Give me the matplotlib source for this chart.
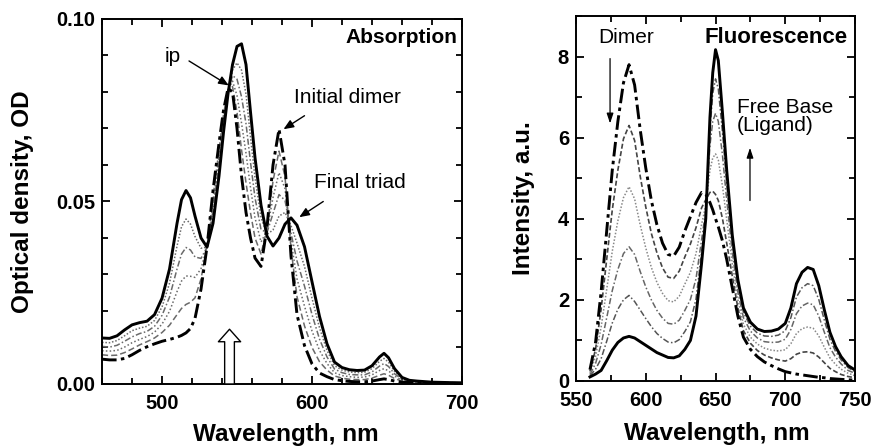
import matplotlib
matplotlib.use("Agg")
import matplotlib.pyplot as plt
from matplotlib.ticker import MultipleLocator

plt.rcParams['font.family'] = ['Liberation Sans', 'DejaVu Sans']

# ---------------- Absorption data ----------------
wl_abs = [460, 465, 470, 475, 480, 485, 490, 495, 500, 505, 510, 513, 516, 519, 522,
          526, 530, 534, 538, 541, 544, 547, 550, 553, 556, 559, 562, 566, 570, 574,
          578, 582, 586, 590, 595, 600, 605, 610, 615, 620, 625, 630, 635, 640, 645,
          648, 651, 655, 660, 665, 670, 680, 690, 700]

abs_triad = [.0126, .0125, .0132, .0148, .0162, .0168, .0172, .0190, .0235, .0315, .0440, .0505, .0530, .0510, .0460,
             .0400, .0375, .0440, .0570, .0690, .0795, .0875, .0925, .0932, .0875, .0745, .0620, .0490, .0405, .0378,
             .0400, .0438, .0455, .0435, .0376, .0280, .0185, .0110, .0060, .0045, .0039, .0037, .0038, .0050, .0074,
             .0084, .0072, .0042, .0018, .0010, .0008, .0005, .0004, .0003]

abs_i1 = [.0114, .0113, .0119, .0132, .0146, .0153, .0158, .0174, .0211, .0276, .0378, .0431, .0452, .0438, .0404,
          .0372, .0375, .0458, .0588, .0702, .0798, .0860, .0880, .0860, .0794, .0676, .0565, .0456, .0410, .0422,
          .0460, .0470, .0434, .0386, .0322, .0235, .0154, .0092, .0050, .0038, .0033, .0031, .0032, .0042, .0062,
          .0070, .0060, .0035, .0015, .0009, .0007, .0005, .0004, .0003]

abs_i2 = [.0103, .0101, .0106, .0117, .0129, .0138, .0144, .0158, .0188, .0238, .0315, .0356, .0374, .0367, .0348,
          .0344, .0375, .0476, .0606, .0714, .0801, .0845, .0835, .0787, .0713, .0607, .0510, .0423, .0415, .0467,
          .0519, .0503, .0413, .0337, .0268, .0190, .0123, .0074, .0041, .0031, .0026, .0025, .0025, .0033, .0049,
          .0056, .0048, .0028, .0013, .0008, .0006, .0004, .0003, .0003]

abs_i3 = [.0091, .0090, .0092, .0101, .0113, .0122, .0130, .0142, .0164, .0199, .0253, .0282, .0296, .0295, .0292,
          .0316, .0375, .0494, .0624, .0726, .0804, .0830, .0790, .0715, .0632, .0538, .0455, .0389, .0420, .0511,
          .0579, .0535, .0392, .0288, .0213, .0145, .0092, .0056, .0031, .0023, .0020, .0018, .0019, .0025, .0037,
          .0042, .0036, .0022, .0010, .0006, .0005, .0004, .0003, .0002]

abs_i4 = [.0080, .0078, .0079, .0086, .0096, .0107, .0116, .0126, .0141, .0161, .0190, .0207, .0218, .0224, .0236,
          .0288, .0375, .0512, .0642, .0738, .0807, .0815, .0745, .0642, .0551, .0469, .0400, .0356, .0425, .0556,
          .0638, .0568, .0371, .0239, .0159, .0100, .0061, .0038, .0022, .0016, .0013, .0012, .0012, .0016, .0024,
          .0028, .0024, .0015, .0008, .0005, .0004, .0003, .0002, .0002]

abs_dimer = [.0068, .0066, .0066, .0070, .0080, .0092, .0102, .0110, .0117, .0122, .0128, .0133, .0140, .0152, .0180,
             .0260, .0376, .0530, .0660, .0750, .0810, .0800, .0700, .0570, .0470, .0400, .0345, .0322, .0430, .0600,
             .0698, .0600, .0350, .0190, .0105, .0055, .0030, .0020, .0012, .0009, .0007, .0006, .0006, .0008, .0012,
             .0014, .0012, .0008, .0005, .0004, .0003, .0003, .0002, .0002]

# ---------------- Fluorescence data ----------------
wl_fl = [560, 564, 568, 572, 576, 580, 584, 588, 592, 596, 600, 604, 608, 612, 616, 620, 624, 628,
         632, 636, 640, 643, 646, 648, 650, 652, 655, 658, 662, 666, 670, 675, 680, 685, 690, 695,
         700, 704, 708, 712, 716, 720, 724, 728, 732, 736, 740, 745, 750]

fl_triad = [.10, .17, .26, .50, .76, .95, 1.06, 1.10, 1.06, .97, .88, .79, .70, .64, .58, .57, .62, .78,
            1.00, 1.60, 2.90, 4.00, 6.50, 7.60, 8.17, 7.90, 6.60, 5.20, 3.60, 2.50, 1.80, 1.45, 1.28, 1.22, 1.23, 1.28,
            1.42, 1.80, 2.40, 2.68, 2.80, 2.75, 2.35, 1.75, 1.20, .85, .60, .38, .27]

fl_f4 = [.13, .29, .55, .98, 1.43, 1.77, 2.00, 2.11, 1.96, 1.75, 1.54, 1.34, 1.17, 1.05, .96, .94, 1.02, 1.22,
         1.46, 2.02, 3.16, 4.09, 6.19, 7.09, 7.45, 7.20, 6.13, 4.87, 3.41, 2.37, 1.69, 1.35, 1.18, 1.11, 1.10, 1.13,
         1.24, 1.56, 2.07, 2.30, 2.40, 2.35, 2.01, 1.50, 1.03, .73, .52, .33, .23]

fl_f3 = [.16, .43, .90, 1.56, 2.23, 2.75, 3.14, 3.31, 3.12, 2.70, 2.32, 2.00, 1.74, 1.55, 1.42, 1.40, 1.50, 1.74,
         2.01, 2.52, 3.48, 4.20, 5.81, 6.40, 6.60, 6.40, 5.56, 4.47, 3.17, 2.20, 1.56, 1.23, 1.06, .97, .95, .96,
         1.03, 1.27, 1.66, 1.85, 1.92, 1.88, 1.60, 1.20, .82, .59, .42, .26, .19]

fl_f2 = [.20, .60, 1.33, 2.26, 3.20, 3.95, 4.52, 4.79, 4.49, 3.85, 3.28, 2.80, 2.43, 2.16, 1.98, 1.95, 2.09, 2.39,
         2.68, 3.14, 3.86, 4.33, 5.20, 5.50, 5.60, 5.45, 4.80, 3.99, 2.89, 2.01, 1.40, 1.08, .91, .81, .76, .74,
         .77, .92, 1.17, 1.29, 1.33, 1.30, 1.11, .83, .57, .41, .29, .19, .13]

fl_f1 = [.24, .78, 1.77, 3.00, 4.22, 5.20, 5.97, 6.30, 5.93, 5.05, 4.29, 3.64, 3.16, 2.79, 2.56, 2.53, 2.71, 3.06,
         3.38, 3.78, 4.27, 4.47, 4.65, 4.68, 4.60, 4.45, 4.00, 3.40, 2.59, 1.80, 1.24, .93, .75, .64, .57, .52,
         .49, .55, .66, .71, .72, .69, .59, .45, .31, .23, .16, .11, .08]

fl_dimer = [.28, .95, 2.20, 3.70, 5.20, 6.40, 7.35, 7.80, 7.30, 6.20, 5.25, 4.45, 3.85, 3.40, 3.12, 3.08, 3.30, 3.70,
            4.05, 4.40, 4.65, 4.60, 4.40, 4.22, 4.00, 3.80, 3.45, 3.00, 2.30, 1.60, 1.08, .78, .60, .47, .38, .30,
            .23, .20, .17, .15, .13, .11, .09, .08, .06, .05, .04, .03, .02]

abs_xticks = [500, 600, 700]
abs_yticks = [0.00, 0.05, 0.10]
abs_yticklabels = ['0.00', '0.05', '0.10']
fl_xticks = [550, 600, 650, 700, 750]
fl_yticks = [0, 2, 4, 6, 8]

# ---------------- Figure ----------------
fig = plt.figure(figsize=(8.75, 4.48), dpi=100)
ax1 = fig.add_axes([0.1166, 0.1429, 0.4114, 0.8147])
ax2 = fig.add_axes([0.6583, 0.1496, 0.3189, 0.8147])

TICKFS = 14.5
LABFS = 17.5
ANNFS = 15

def style_axis(ax):
    for s in ax.spines.values():
        s.set_linewidth(1.4)
    ax.tick_params(which='both', direction='in', top=True, right=True, width=1.3)
    ax.tick_params(which='major', length=6, labelsize=TICKFS)
    ax.tick_params(axis='x', which='major', pad=7)
    ax.tick_params(axis='y', which='major', pad=5)
    ax.tick_params(which='minor', length=4)
    for lab in ax.get_xticklabels() + ax.get_yticklabels():
        lab.set_fontweight('bold')

# Absorption panel
grey = '#6a6a6a'
ax1.plot(wl_abs, abs_i4, color=grey, lw=1.1, ls=(0, (4, 2)))
ax1.plot(wl_abs, abs_i3, color=grey, lw=1.1, ls=(0, (1, 1.5)))
ax1.plot(wl_abs, abs_i2, color=grey, lw=1.1, ls=(0, (4, 1.5, 1, 1.5)))
ax1.plot(wl_abs, abs_i1, color=grey, lw=1.1, ls=(0, (1, 1.2)))
ax1.plot(wl_abs, abs_dimer, color='black', lw=2.1, ls=(0, (5, 1.5, 1.2, 1.5)))
ax1.plot(wl_abs, abs_triad, color='black', lw=2.1, ls='-')

ax1.set_xlim(460, 700)
ax1.set_ylim(0, 0.10)
ax1.set_xticks(abs_xticks)
ax1.set_yticks(abs_yticks)
ax1.set_yticklabels(abs_yticklabels)
ax1.xaxis.set_minor_locator(MultipleLocator(20))
ax1.yaxis.set_minor_locator(MultipleLocator(0.01))
style_axis(ax1)
ax1.set_xlabel('Wavelength, nm', fontsize=LABFS, fontweight='bold')
ax1.set_ylabel('Optical density, OD', fontsize=LABFS, fontweight='bold')
ax1.xaxis.set_label_coords(0.51, -0.108)
ax1.yaxis.set_label_coords(-0.19, 0.5)

ax1.text(697, 0.0948, 'Absorption', fontsize=15, fontweight='bold', ha='right', va='center')
ap = dict(arrowstyle='-|>,head_length=0.6,head_width=0.25', color='black', lw=1.0,
          shrinkA=0, shrinkB=0)
ax1.text(507, 0.0896, 'ip', fontsize=ANNFS, ha='center', va='center')
ax1.annotate('', xy=(544.5, 0.0818), xytext=(518, 0.0885), arrowprops=ap)
ax1.text(588, 0.0785, 'Initial dimer', fontsize=ANNFS, ha='left', va='center')
ax1.annotate('', xy=(581, 0.0698), xytext=(595, 0.0735), arrowprops=ap)
ax1.text(601.5, 0.0552, 'Final triad', fontsize=ANNFS, ha='left', va='center')
ax1.annotate('', xy=(591.5, 0.0457), xytext=(607.5, 0.0500), arrowprops=ap)
ax1.annotate('', xy=(545, 0.0150), xytext=(545, 0.0),
             arrowprops=dict(arrowstyle='simple,head_length=9,head_width=16,tail_width=7',
                             mutation_scale=1, fc='white', ec='black', lw=1.0,
                             shrinkA=0, shrinkB=0))

# Fluorescence panel
ax2.plot(wl_fl, fl_f4, color='#555555', lw=1.1, ls=(0, (4, 1.5, 1, 1.5)))
ax2.plot(wl_fl, fl_f3, color='#666666', lw=1.1, ls=(0, (4, 1.5, 1, 1.5)))
ax2.plot(wl_fl, fl_f2, color='#888888', lw=1.1, ls=(0, (1, 1.2)))
ax2.plot(wl_fl, fl_f1, color='#444444', lw=1.2, ls=(0, (3, 1.5)))
ax2.plot(wl_fl, fl_dimer, color='black', lw=2.1, ls=(0, (5, 1.5, 1.2, 1.5)))
ax2.plot(wl_fl, fl_triad, color='black', lw=2.1, ls='-')

ax2.set_xlim(550, 750)
ax2.set_ylim(0, 9)
ax2.set_xticks(fl_xticks)
ax2.set_yticks(fl_yticks)
ax2.xaxis.set_minor_locator(MultipleLocator(25))
ax2.yaxis.set_minor_locator(MultipleLocator(1))
style_axis(ax2)
ax2.set_xlabel('Wavelength, nm', fontsize=LABFS, fontweight='bold')
ax2.set_ylabel('Intensity, a.u.', fontsize=LABFS, fontweight='bold')
ax2.xaxis.set_label_coords(0.505, -0.112)
ax2.yaxis.set_label_coords(-0.147, 0.5)

ax2.text(586, 8.47, 'Dimer', fontsize=ANNFS, ha='center', va='center')
ax2.text(745, 8.47, 'Fluorescence', fontsize=16, fontweight='bold', ha='right', va='center')
ax2.text(665.4, 6.53, 'Free Base\n(Ligand)', fontsize=ANNFS, ha='left', va='center', linespacing=0.95)
ap2 = dict(arrowstyle='-|>,head_length=0.6,head_width=0.2', color='black', lw=0.9,
           shrinkA=0, shrinkB=0)
ax2.annotate('', xy=(574.4, 6.35), xytext=(574.4, 7.95), arrowprops=ap2)
ax2.annotate('', xy=(674.7, 5.75), xytext=(674.7, 4.45), arrowprops=ap2)

fig.savefig('out.png', dpi=100)
